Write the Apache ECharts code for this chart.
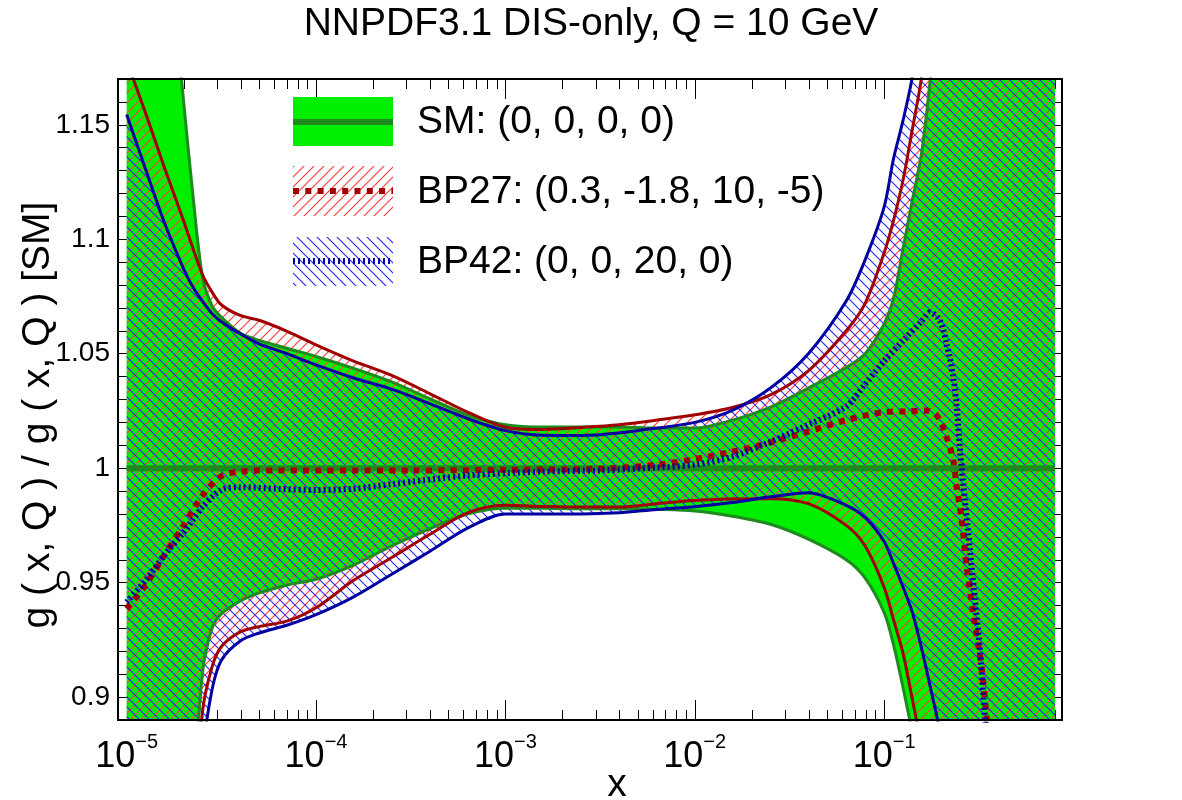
<!DOCTYPE html>
<html>
<head>
<meta charset="utf-8">
<title>NNPDF3.1 DIS-only, Q = 10 GeV</title>
<script src="https://cdn.jsdelivr.net/npm/echarts@6.0.0/dist/echarts.min.js"></script>
<style>
  html, body { margin: 0; padding: 0; background: #fff; }
  #chart { width: 1182px; height: 800px; }
</style>
</head>
<body>
<div id="chart"></div>
<script>
// x grid shared by the three uncertainty bands
const xGrid = [1e-5, 1.26e-5, 1.58e-5, 2e-5, 2.24e-5, 2.51e-5, 2.82e-5, 3.16e-5, 3.98e-5, 5.01e-5,
  7.08e-5, 1e-4, 1.58e-4, 2.51e-4, 3.98e-4, 6.31e-4, 1e-3, 1.58e-3, 2.51e-3, 3.98e-3,
  6.31e-3, 1e-2, 1.58e-2, 2.51e-2, 3.98e-2, 6.31e-2, 7.94e-2, 0.1, 0.112, 0.126,
  0.141, 0.158, 0.178, 0.2, 0.251, 0.316, 0.398, 0.501, 0.631, 0.8]

// SM band (green)
const smUpper = [1.42, 1.34, 1.25, 1.16, 1.119, 1.084, 1.071, 1.066, 1.059, 1.0558,
  1.0523, 1.0488, 1.0436, 1.0377, 1.0304, 1.0233, 1.019, 1.018, 1.018, 1.018,
  1.0175, 1.0175, 1.021, 1.0267, 1.035, 1.044, 1.050, 1.063, 1.074, 1.096,
  1.117, 1.138, 1.175, 1.22, 1.30, 1.40, 1.50, 1.60, 1.70, 1.80]
const smLower = [0.40, 0.50, 0.62, 0.76, 0.85, 0.910, 0.930, 0.9363, 0.942, 0.9455,
  0.949, 0.9515, 0.9577, 0.966, 0.9735, 0.980, 0.9825, 0.9825, 0.9823, 0.9823,
  0.982, 0.9813, 0.979, 0.9755, 0.969, 0.960, 0.952, 0.937, 0.923, 0.904,
  0.884, 0.86, 0.83, 0.80, 0.74, 0.68, 0.62, 0.56, 0.50, 0.45]

// BP27 band (red)
const bp27Upper = [1.178, 1.155, 1.1315, 1.108, 1.096, 1.0847, 1.077, 1.0714, 1.0667, 1.0646,
  1.0597, 1.0539, 1.0468, 1.0405, 1.0326, 1.0245, 1.0179, 1.0169, 1.0178, 1.019,
  1.021, 1.0233, 1.0265, 1.032, 1.0425, 1.060, 1.072, 1.094, 1.108, 1.126,
  1.148, 1.171, 1.205, 1.24, 1.33, 1.43, 1.53, 1.63, 1.73, 1.83]
const bp27Lower = [0.40, 0.50, 0.62, 0.75, 0.83, 0.893, 0.913, 0.922, 0.9285, 0.9308,
  0.9333, 0.939, 0.951, 0.961, 0.971, 0.9805, 0.9838, 0.9833, 0.983, 0.983,
  0.9845, 0.9859, 0.9865, 0.9867, 0.9845, 0.975, 0.966, 0.948, 0.934, 0.919,
  0.899, 0.878, 0.85, 0.82, 0.76, 0.70, 0.64, 0.58, 0.52, 0.46]

// BP42 band (blue)
const bp42Upper = [1.1545, 1.1305, 1.1074, 1.087, 1.079, 1.073, 1.0676, 1.064, 1.0587, 1.0543,
  1.0499, 1.0451, 1.0394, 1.0345, 1.0282, 1.0217, 1.0164, 1.0144, 1.0143, 1.0154,
  1.0175, 1.020, 1.0253, 1.035, 1.050, 1.073, 1.091, 1.114, 1.135, 1.152,
  1.171, 1.20, 1.23, 1.26, 1.35, 1.45, 1.55, 1.65, 1.75, 1.85]
const bp42Lower = [0.45, 0.55, 0.66, 0.77, 0.83, 0.875, 0.903, 0.916, 0.9245, 0.928,
  0.9315, 0.936, 0.9438, 0.9537, 0.9636, 0.9738, 0.980, 0.980, 0.980, 0.9805,
  0.982, 0.9832, 0.985, 0.9875, 0.9893, 0.9838, 0.9784, 0.968, 0.9585, 0.948,
  0.937, 0.921, 0.902, 0.882, 0.82, 0.75, 0.68, 0.62, 0.56, 0.50]

// central values
const smCentralX = [1e-5, 0.8]
const smCentral = [1, 1]
const bp27CentralX = [1e-5, 1.26e-5, 1.58e-5, 2e-5, 2.51e-5, 3.16e-5, 3.98e-5, 6.31e-5, 1e-4, 3.16e-4,
  1e-3, 3.16e-3, 6.31e-3, 1e-2, 1.58e-2, 2.51e-2, 3.98e-2, 6.31e-2, 0.1, 0.132,
  0.166, 0.19, 0.214, 0.232, 0.242, 0.257, 0.273, 0.296, 0.327, 0.348, 0.38]
const bp27Central = [0.9386, 0.949, 0.962, 0.975, 0.988, 0.9965, 0.9985, 0.999, 0.999, 0.999,
  0.9993, 0.9998, 1.0015, 1.004, 1.0072, 1.0112, 1.016, 1.021, 1.0245, 1.0248,
  1.0252, 1.023, 1.0135, 1.0034, 0.9917, 0.9772, 0.9568, 0.9364, 0.9131, 0.8913, 0.86]
const bp42CentralX = [1e-5, 1.26e-5, 1.58e-5, 2e-5, 2.51e-5, 3.16e-5, 3.98e-5, 6.31e-5, 1e-4, 1.58e-4,
  2.51e-4, 6.31e-4, 1.58e-3, 3.16e-3, 6.31e-3, 1e-2, 1.58e-2, 2.51e-2, 3.98e-2, 6.31e-2,
  7.94e-2, 0.1, 0.126, 0.158, 0.175, 0.197, 0.214, 0.232, 0.242, 0.252,
  0.267, 0.284, 0.302, 0.321, 0.341, 0.372]
const bp42Central = [0.9415, 0.951, 0.962, 0.972, 0.983, 0.9905, 0.9917, 0.991, 0.9905, 0.991,
  0.993, 0.9968, 0.9985, 0.999, 1.0003, 1.0015, 1.005, 1.0115, 1.019, 1.027,
  1.0367, 1.0468, 1.0557, 1.0643, 1.0681, 1.0645, 1.0543, 1.0397, 1.0266, 1.0077,
  0.9859, 0.9641, 0.9422, 0.9204, 0.8913, 0.86]

// axes and texts
const xDecades = [1e-5, 1e-4, 1e-3, 1e-2, 1e-1]
const xMinorSteps = [2, 3, 4, 5, 6, 7, 8, 9]
const yLabelValues = [0.9, 0.95, 1, 1.05, 1.1, 1.15]
const legendLabels = ['SM: (0, 0, 0, 0)', 'BP27: (0.3, -1.8, 10, -5)', 'BP42: (0, 0, 20, 0)']
const titleText = 'NNPDF3.1 DIS-only, Q = 10 GeV'
const yTitle = 'g ( x, Q ) / g ( x, Q ) [SM]'
const xTitle = 'x'

const X_MIN = 9e-6
const X_MAX = 0.87
const Y_MIN = 0.89
const Y_MAX = 1.17
const FONT = '"Liberation Sans", Arial, Helvetica, sans-serif'
const GREEN = '#00ee00'
const DARK_GREEN = '#1f8b1f'
const DARK_RED = '#a00000'
const DARK_BLUE = '#0000a0'
const SMOOTH = 0.3

// antialiased diagonal hatch tile, '/' or '\'
function makeHatch (color, width, dir) {
  const s = 10
  const c = document.createElement('canvas')
  c.width = s
  c.height = s
  const g = c.getContext('2d')
  g.strokeStyle = color
  g.lineWidth = width
  g.beginPath()
  if (dir === '/') {
    g.moveTo(0, s); g.lineTo(s, 0)
    g.moveTo(-1, 1); g.lineTo(1, -1)
    g.moveTo(s - 1, s + 1); g.lineTo(s + 1, s - 1)
  } else {
    g.moveTo(0, 0); g.lineTo(s, s)
    g.moveTo(s - 1, -1); g.lineTo(s + 1, 1)
    g.moveTo(-1, s - 1); g.lineTo(1, s + 1)
  }
  g.stroke()
  return { image: c, repeat: 'repeat' }
}
const redHatch = () => makeHatch('#ff4040', 1.2, '/')
const blueHatch = () => makeHatch('#2424ff', 1.1, '\\')

function pairs (xs, ys) {
  return xs.map((x, i) => [x, ys[i]])
}

// band fill: closed polygon between upper and lower edges, mapped through the axes
function bandFill (lower, upper, fill) {
  return {
    type: 'custom',
    coordinateSystem: 'cartesian2d',
    data: [[xGrid[0], 1]],
    encode: { x: 0, y: 1 },
    clip: true,
    silent: true,
    z: 2,
    renderItem: function (params, api) {
      const top = xGrid.map((x, i) => api.coord([x, upper[i]]))
      const bottom = xGrid.map((x, i) => api.coord([x, lower[i]])).reverse()
      return {
        type: 'polygon',
        shape: { points: top.concat(bottom) },
        style: { fill: fill, stroke: null }
      }
    }
  }
}

function curve (xs, ys, color, width, z, dash) {
  return {
    type: 'line',
    data: pairs(xs, ys),
    smooth: SMOOTH,
    symbol: 'none',
    silent: true,
    z: z,
    lineStyle: { color: color, width: width, type: dash || 'solid', cap: 'butt' }
  }
}

const tickData = []
xDecades.forEach(d => {
  tickData.push([d, 1, 1])
  xMinorSteps.forEach(m => {
    if (m * d <= X_MAX) tickData.push([m * d, 1, 0])
  })
})

function renderTick (params, api) {
  const xv = api.value(0)
  const len = api.value(2) === 1 ? 20 : 10
  const b = api.coord([xv, Y_MIN])
  const t = api.coord([xv, Y_MAX])
  const px = Math.round(b[0]) + 0.5
  return {
    type: 'group',
    children: [
      { type: 'line', shape: { x1: px, y1: b[1], x2: px, y2: b[1] - len }, style: { stroke: '#000', lineWidth: 1 } },
      { type: 'line', shape: { x1: px, y1: t[1], x2: px, y2: t[1] + len }, style: { stroke: '#000', lineWidth: 1 } }
    ]
  }
}

const yAxisCommon = {
  type: 'value',
  min: Y_MIN,
  max: Y_MAX,
  interval: 0.01,
  axisLine: { show: false },
  splitLine: { show: false },
  axisTick: { show: true, inside: true, length: 10, lineStyle: { color: '#000', width: 1 } }
}

const legendRows = [
  { y: 97, h: 49, fill: GREEN },
  { y: 166, h: 50, fill: redHatch() },
  { y: 237, h: 49, fill: blueHatch() }
]
const legendGraphics = []
legendRows.forEach((r, i) => {
  legendGraphics.push({ type: 'rect', shape: { x: 293, y: r.y, width: 100, height: r.h }, style: { fill: r.fill }, z: 50 })
  legendGraphics.push({
    type: 'text', x: 417, y: r.y + r.h / 2 + 1, z: 50,
    style: { text: legendLabels[i], fontSize: 39, fontFamily: FONT, fill: '#000', align: 'left', verticalAlign: 'middle' }
  })
})
legendGraphics.push({ type: 'rect', shape: { x: 293, y: 119, width: 100, height: 6 }, style: { fill: DARK_GREEN }, z: 51 })
legendGraphics.push({ type: 'line', shape: { x1: 293, y1: 191, x2: 393, y2: 191 }, style: { stroke: DARK_RED, lineWidth: 6, lineDash: [6, 6.3] }, z: 51 })
legendGraphics.push({ type: 'line', shape: { x1: 293, y1: 261, x2: 393, y2: 261 }, style: { stroke: DARK_BLUE, lineWidth: 6, lineDash: [2, 3] }, z: 51 })

const chart = echarts.init(document.getElementById('chart'), null, { renderer: 'canvas' })
chart.setOption({
  animation: false,
  backgroundColor: '#fff',
  title: {
    text: titleText,
    left: 'center',
    top: 5,
    padding: 0,
    textStyle: { fontSize: 39, fontWeight: 'normal', color: '#000', fontFamily: FONT }
  },
  grid: { left: 118, top: 79, width: 944, height: 641, containLabel: false, outerBoundsMode: 'none' },
  xAxis: {
    type: 'log',
    logBase: 10,
    min: X_MIN,
    max: X_MAX,
    axisLine: { show: false },
    axisTick: { show: false },
    splitLine: { show: false },
    minorTick: { show: false },
    axisLabel: {
      margin: 12,
      showMinLabel: false,
      showMaxLabel: false,
      color: '#000',
      formatter: function (v) {
        const e = Math.log10(v)
        const k = Math.round(e)
        if (Math.abs(e - k) > 1e-6) return ''
        return '{b|10}{s|\u2212' + (-k) + '}'
      },
      rich: {
        b: { fontSize: 36, lineHeight: 43, verticalAlign: 'bottom', fontFamily: FONT, color: '#000' },
        s: { fontSize: 20, lineHeight: 20, verticalAlign: 'top', fontFamily: FONT, color: '#000' }
      }
    }
  },
  yAxis: [
    Object.assign({}, yAxisCommon, {
      position: 'left',
      axisLabel: {
        margin: 8,
        fontSize: 28,
        fontFamily: FONT,
        color: '#000',
        formatter: v => yLabelValues.some(t => Math.abs(t - v) < 1e-6) ? String(+v.toFixed(2)) : ''
      }
    }),
    Object.assign({}, yAxisCommon, { position: 'right', axisLabel: { show: false } })
  ],
  graphic: {
    elements: [
      { type: 'rect', shape: { x: 118, y: 79, width: 944, height: 641 }, style: { fill: 'none', stroke: '#000', lineWidth: 2 }, z: 100 },
      {
        type: 'text', x: 38, y: 415, rotation: Math.PI / 2,
        style: { text: yTitle, fontSize: 39, fontFamily: FONT, fill: '#000', align: 'center', verticalAlign: 'middle' }
      },
      {
        type: 'text', x: 617, y: 785,
        style: { text: xTitle, fontSize: 39, fontFamily: FONT, fill: '#000', align: 'center', verticalAlign: 'middle' }
      }
    ].concat(legendGraphics)
  },
  series: [
    {
      type: 'custom',
      coordinateSystem: 'cartesian2d',
      data: tickData,
      encode: { x: 0, y: 1 },
      renderItem: renderTick,
      silent: true,
      clip: false,
      z: 1
    },
    bandFill(smLower, smUpper, GREEN),
    bandFill(bp27Lower, bp27Upper, redHatch()),
    bandFill(bp42Lower, bp42Upper, blueHatch()),
    curve(xGrid, smUpper, DARK_GREEN, 3, 3),
    curve(xGrid, smLower, DARK_GREEN, 3, 3),
    curve(xGrid, bp27Upper, DARK_RED, 3, 3),
    curve(xGrid, bp27Lower, DARK_RED, 3, 3),
    curve(xGrid, bp42Upper, DARK_BLUE, 3, 3),
    curve(xGrid, bp42Lower, DARK_BLUE, 3, 3),
    curve(smCentralX, smCentral, DARK_GREEN, 6, 4),
    curve(bp27CentralX, bp27Central, DARK_RED, 6, 4, [6, 6.3]),
    curve(bp42CentralX, bp42Central, DARK_BLUE, 6, 4, [2, 3])
  ]
})
</script>
</body>
</html>
